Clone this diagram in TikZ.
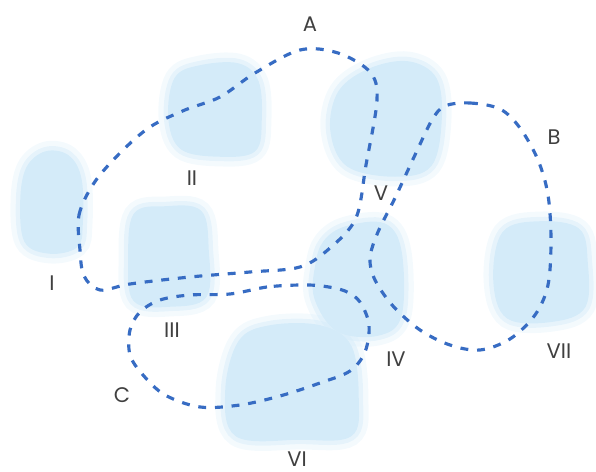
\documentclass[tikz,border=0pt]{standalone}
\usepackage{fontspec}
\setmainfont{Poppins}
\usetikzlibrary{positioning}
\definecolor{regblue}{RGB}{55,108,195}
\definecolor{blobblue}{RGB}{212,235,249}
\definecolor{labgrey}{RGB}{64,64,64}

\begin{document}
\begin{tikzpicture}[x=0.02cm, y=-0.02cm,
    blob/.style={fill=blobblue, draw=blobblue, line width=2pt, line join=round,
                 preaction={draw=blobblue, line width=7pt, draw opacity=0.45},
                 preaction={draw=blobblue, line width=13pt, draw opacity=0.25}},
    region/.style={draw=regblue, line width=1.8pt, dash pattern=on 4.5pt off 5pt},
    lab/.style={text=labgrey, font=\fontsize{12}{14}\selectfont, inner sep=0pt}]

\useasboundingbox (0,0) rectangle (596,472);

%---------------------------------------
% Blobs (light blue patches)
%---------------------------------------
\path[blob] plot[smooth cycle, tension=0.6] coordinates
  {(28,168) (46,153) (68,157) (80,180) (81,225) (76,246) (50,252) (26,241) (22,200)};           % I
\path[blob] plot[smooth cycle, tension=0.6] coordinates
  {(176,79) (200,67) (238,65) (257,82) (260,120) (254,150) (220,155) (182,148) (170,118)};      % II
\path[blob] plot[smooth cycle, tension=0.6] coordinates
  {(135,215) (165,208) (200,212) (207,250) (205,296) (170,305) (135,300) (130,260)};            % III
\path[blob] plot[smooth cycle, tension=0.6] coordinates
  {(340,92) (370,70) (408,63) (435,79) (440,120) (430,165) (395,175) (348,165) (332,130)};      % V
\path[blob] plot[smooth cycle, tension=0.6] coordinates
  {(325,242) (346,228) (384,225) (400,252) (400,315) (378,334) (338,330) (316,298) (317,265)};  % IV
\path[blob] plot[smooth cycle, tension=0.6] coordinates
  {(240,342) (270,327) (320,327) (350,347) (357,400) (350,435) (300,438) (237,435) (227,390)};  % VI
\path[blob] plot[smooth cycle, tension=0.6] coordinates
  {(504,233) (540,223) (578,230) (586,262) (584,306) (553,320) (508,317) (495,280)};            % VII

%---------------------------------------
% Regions A, B, C (dashed loops)
%---------------------------------------
\draw[region] plot[smooth cycle, tension=0.55] coordinates
  {(80,250) (79,215) (94,183) (120,153) (150,127) (185,110) (220,97) (255,73) (300,50)
   (338,53) (370,72) (377,100) (366,165) (356,218) (330,248) (300,267) (250,272)
   (190,277) (130,284) (100,290) (84,276)};                                             % A
\draw[region] plot[smooth cycle, tension=0.55] coordinates
  {(445,106) (470,103) (500,109) (520,128) (538,160) (548,195) (551,240) (548,285)
   (535,315) (510,339) (480,350) (450,345) (420,330) (393,306) (375,280) (370,258)
   (378,232) (395,198) (415,155) (432,120)};                                            % B
\draw[region] plot[smooth cycle, tension=0.55] coordinates
  {(300,285) (267,287) (230,294) (190,295) (160,300) (140,312) (130,330) (130,355)
   (143,375) (165,395) (200,407) (240,405) (280,396) (320,383) (350,371) (365,352)
   (369,325) (360,302) (345,291) (322,286)};                                            % C

%---------------------------------------
% Labels
%---------------------------------------
\node[lab] (labA)   at (310,24)  {A};
\node[lab] (labB)   at (554,137) {B};
\node[lab] (labC)   at (122,395) {C};
\node[lab] (labI)   at (52,283)  {I};
\node[lab] (labII)  at (192,178) {II};
\node[lab] (labIII) at (172,330) {III};
\node[lab] (labIV)  at (396,359) {IV};
\node[lab] (labV)   at (381,193) {V};
\node[lab] (labVI)  at (297,459) {VI};
\node[lab] (labVII) at (559,351) {VII};

\end{tikzpicture}
\end{document}
